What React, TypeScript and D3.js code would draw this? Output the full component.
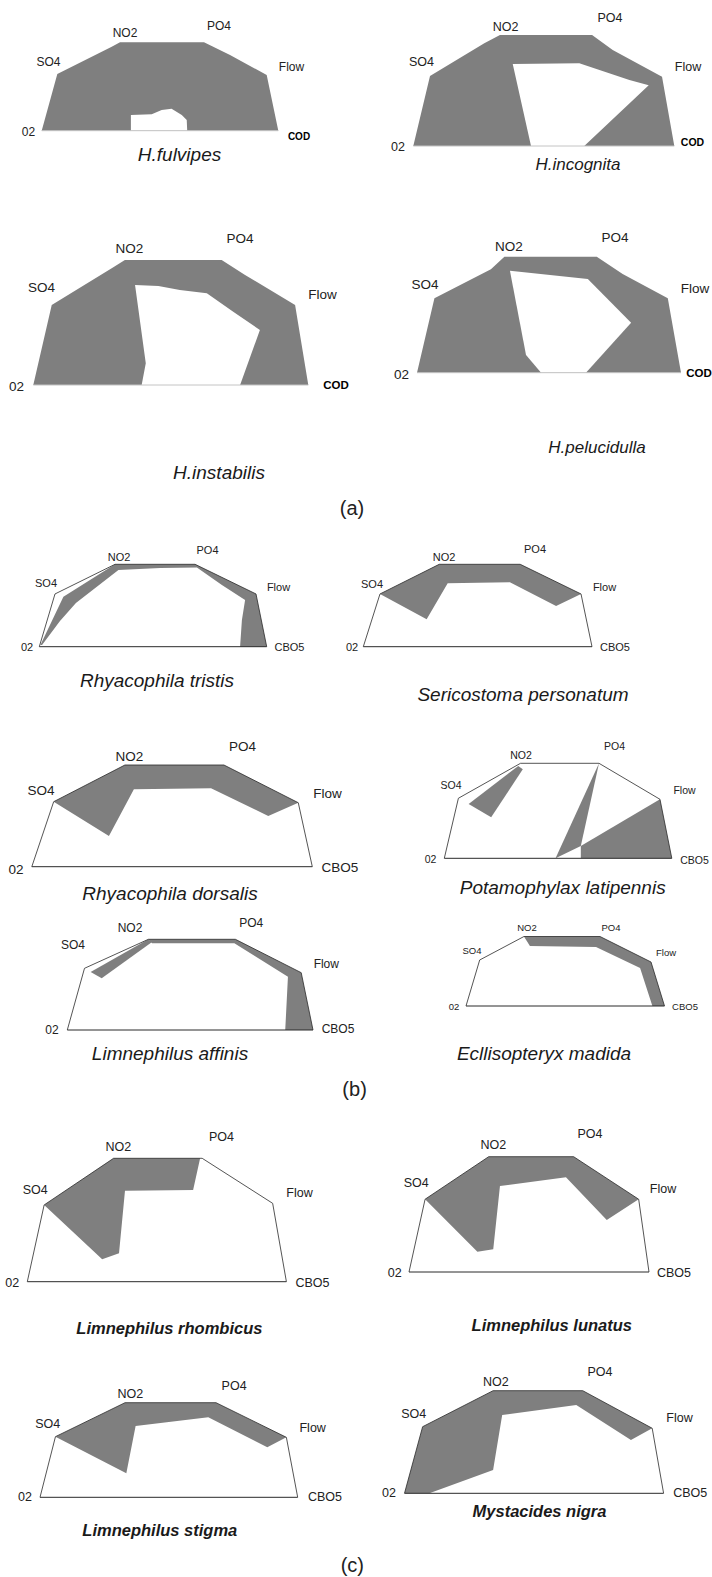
import React from "react";
import * as d3 from "d3";

type Pt = [number, number];

// axis names as printed (first one is written "02" in the figure)
const AXES_A = ["02", "SO4", "NO2", "PO4", "Flow", "COD"];
const AXES_BC = ["02", "SO4", "NO2", "PO4", "Flow", "CBO5"];

const SPECIES = [
  "H.fulvipes", "H.incognita", "H.instabilis", "H.pelucidulla",
  "Rhyacophila tristis", "Sericostoma personatum",
  "Rhyacophila dorsalis", "Potamophylax latipennis",
  "Limnephilus affinis", "Ecllisopteryx madida",
  "Limnephilus rhombicus", "Limnephilus lunatus",
  "Limnephilus stigma", "Mystacides nigra",
];

// shapes, in % of each diagram box (u: O2 -> COD, v: base -> top)
// panel (a): outer envelope is filled, hole is the white inner polygon
const fulvipesFrame: Pt[] = [[0, 0], [6.6, 64.1], [29.6, 95], [33.1, 100], [68.6, 100], [79.6, 85.6], [95.1, 63], [100, 0]];
const fulvipesHole: Pt[] = [[37.7, 0], [37.7, 17.8], [46.5, 18.6], [50.7, 23.4], [54.9, 24.9], [59.2, 17.8], [61.3, 12.1], [61.5, 0]];
const incognitaFrame: Pt[] = [[0, 0], [6.4, 63.1], [27.2, 92.5], [33.2, 100], [68.5, 100], [76.4, 86.5], [95.3, 62.4], [100, 0]];
const incognitaHole: Pt[] = [[38.1, 73.9], [63.6, 74.5], [82.8, 59.5], [90.2, 54.7], [65.5, 0], [45.1, 0]];
const instabilisFrame: Pt[] = [[0, 0], [6.7, 64], [29.1, 94.2], [33.3, 100], [68.5, 100], [77, 88], [95.2, 64], [100, 0]];
const instabilisHole: Pt[] = [[37, 80], [45.5, 79.2], [53.3, 76], [63.1, 73.4], [72.7, 58.6], [82.4, 44], [75.2, 0], [39.4, 0], [40.9, 17.4]];
const pelucidullaFrame: Pt[] = [[0, 0], [6.6, 64.1], [28, 89.1], [33.1, 100], [68.1, 100], [77.9, 85.1], [95, 64.1], [100, 0]];
const pelucidullaHole: Pt[] = [[35.2, 87.9], [64.7, 80.8], [81.1, 43.1], [64, 0], [47, 0], [41.3, 15.3]];

// panels (b), (c): outline frame + grey bands
const tristisFrame: Pt[] = [[0, 0], [6.9, 64], [33.3, 100], [68.5, 100], [95.3, 64], [100, 0]];
const tristisBands: Pt[][] = [[[0.5, 2.1], [10.6, 60.7], [33.3, 100], [68.5, 100], [95.3, 64], [100, 0], [88.3, 0], [89.1, 32.4], [90.5, 56.7], [80.3, 74.9], [69.3, 96.1], [53.1, 95.5], [34.8, 93.1], [16.1, 53], [9.1, 31.2], [1.2, 2.1]]];
const sericostomaFrame: Pt[] = [[0, 0], [7.3, 64], [33.2, 100], [68.6, 100], [95.2, 64], [100, 0]];
const sericostomaBands: Pt[][] = [[[7.3, 64], [33.2, 100], [68.6, 100], [95.2, 64], [84.3, 49.4], [64.1, 78.2], [50, 77.7], [36.9, 76.9], [27.7, 33.3]]];
const dorsalisFrame: Pt[] = [[0, 0], [7.8, 63.9], [33.2, 100], [68.5, 100], [95, 62.9], [100, 0]];
const dorsalisBands: Pt[][] = [[[7.8, 63.9], [33.2, 100], [68.5, 100], [95, 62.9], [84.3, 49.9], [63.9, 77.1], [36.4, 76.1], [27.5, 30.2]]];
const potamophylaxFrame: Pt[] = [[0, 0], [6.2, 63.2], [33.5, 100], [68, 100], [94.8, 62.1], [100, 0]];
const potamophylaxBands: Pt[][] = [
  [[10.7, 57.2], [32.5, 97.2], [34.5, 93.7], [20.6, 43.2]],
  [[48.9, 0], [68, 100], [60, 13]],
  [[60, 13], [94.8, 62.1], [100, 0], [60, 0]],
];
const affinisFrame: Pt[] = [[0, 0], [7, 68], [33, 100], [68.4, 100], [95.2, 63.2], [100, 0]];
const affinisBands: Pt[][] = [
  [[9.5, 64], [33, 100], [34.5, 97], [14, 57]],
  [[33, 100], [68.4, 100], [95.2, 63.2], [100, 0], [88.7, 0], [89.8, 58.8], [68, 95.6], [34.5, 95.6]],
];
const ecllisopteryxFrame: Pt[] = [[0, 0], [6.9, 66.2], [29.2, 100], [67.5, 100], [93.2, 63.3], [100, 0]];
const ecllisopteryxBands: Pt[][] = [[[29.2, 100], [67.5, 100], [93.2, 63.3], [100, 0], [93.9, 0], [87.7, 54.7], [65.5, 84.9], [32.2, 86.3]]];
const rhombicusFrame: Pt[] = [[0, 0], [6.5, 62.2], [33.3, 100], [67.5, 100], [94.7, 63.5], [100, 0]];
const rhombicusBands: Pt[][] = [[[6.5, 62.2], [33.3, 100], [66.7, 100], [64, 74.3], [37.7, 73.7], [35.4, 23], [28.9, 18.2]]];
const lunatusFrame: Pt[] = [[0, 0], [6.7, 63.1], [33.2, 100], [68.6, 100], [95.7, 63.1], [100, 0]];
const lunatusBands: Pt[][] = [[[6.7, 63.1], [33.2, 100], [68.6, 100], [95.7, 63.1], [82.4, 45.1], [65.4, 82.1], [37.9, 74.6], [35.1, 19.7], [28.5, 17.6]]];
const stigmaFrame: Pt[] = [[0, 0], [6, 64.1], [33, 100], [68.3, 100], [95.6, 63.4], [100, 0]];
const stigmaBands: Pt[][] = [[[6, 64.1], [33, 100], [68.3, 100], [95.6, 63.4], [88.2, 52.9], [65.3, 84.6], [37.1, 75.4], [33.5, 25.4]]];
const mystacidesFrame: Pt[] = [[0, 0], [7, 64.9], [34.2, 100], [68.8, 100], [95.6, 63.4], [100, 0]];
const mystacidesBands: Pt[][] = [[[0, 0], [7, 64.9], [34.2, 100], [68.8, 100], [95.6, 63.4], [87.4, 52], [66.3, 86.1], [37.7, 76.3], [34.2, 22.7], [9.6, 0]]];

const FRAMES = [fulvipesFrame, incognitaFrame, instabilisFrame, pelucidullaFrame, tristisFrame, sericostomaFrame, dorsalisFrame, potamophylaxFrame, affinisFrame, ecllisopteryxFrame, rhombicusFrame, lunatusFrame, stigmaFrame, mystacidesFrame];
const HOLES = [fulvipesHole, incognitaHole, instabilisHole, pelucidullaHole];
const BANDS = [tristisBands, sericostomaBands, dorsalisBands, potamophylaxBands, affinisBands, ecllisopteryxBands, rhombicusBands, lunatusBands, stigmaBands, mystacidesBands];

const PANELS = ["(a)", "(b)", "(c)"];

// ---- layout (page px) ----
type Lay = { box: [number, number, number, number]; lab: Pt[]; fs: number; title: Pt; ts: number; bold?: boolean };
const LAYOUT: Lay[] = [
  { box: [41.7, 278.3, 42.3, 130.7], lab: [[28.5, 132], [48.5, 62], [125, 33], [219, 26], [291.5, 67], [299, 136]], fs: 12, title: [179.5, 154], ts: 19 },
  { box: [413.3, 674.3, 35, 146], lab: [[398, 146.7], [421.5, 61.7], [505.5, 26.7], [610, 18.3], [688, 66.7], [692.5, 141.7]], fs: 12.5, title: [578, 164], ts: 17 },
  { box: [33.3, 308.3, 260, 385], lab: [[16.5, 386.7], [41.5, 287.3], [129.5, 248.3], [240, 238.3], [322.5, 294], [336, 385]], fs: 13.5, title: [219, 472], ts: 19 },
  { box: [417, 681, 256.7, 372.7], lab: [[401.5, 374], [425, 284], [509, 246.7], [615, 237.3], [695, 288], [699, 373.3]], fs: 13.5, title: [597, 447], ts: 17 },
  { box: [39.3, 266.7, 564.3, 646.7], lab: [[27, 647.3], [46, 583.3], [119, 556.7], [207.5, 550], [278.5, 586.7], [289.5, 647.3]], fs: 11, title: [157, 680], ts: 19 },
  { box: [363.3, 592, 564.3, 646.7], lab: [[352, 647], [372, 584], [444, 557.3], [535, 549.3], [604.5, 586.7], [615, 646.7]], fs: 11, title: [523, 694], ts: 19 },
  { box: [31.8, 312.3, 765, 866.7], lab: [[16, 869], [41, 790], [129.5, 756], [242.5, 746], [327.5, 793.3], [340, 867]], fs: 13.5, title: [170, 893.3], ts: 19 },
  { box: [444.3, 671.8, 763.3, 858.3], lab: [[430.5, 859], [451, 785], [521, 755], [614.5, 746], [684.5, 790], [694.5, 860]], fs: 10.5, title: [562.7, 887.3], ts: 19 },
  { box: [67.3, 313, 939.3, 1030], lab: [[52, 1030], [73, 945], [130, 928], [251.3, 922.7], [326.3, 964], [338, 1029.3]], fs: 12, title: [170, 1053.3], ts: 19 },
  { box: [466, 664.5, 936.5, 1006], lab: [[454, 1006.7], [472, 950.7], [527, 927], [611, 927], [666, 952], [685, 1006.7]], fs: 9.5, title: [544, 1053.3], ts: 19 },
  { box: [27.3, 286.4, 1158.3, 1281.7], lab: [[12.3, 1282.7], [35.2, 1190], [118.3, 1147.3], [221.5, 1136.7], [299.5, 1192.7], [312.5, 1282.7]], fs: 12.5, title: [169.4, 1328.3], ts: 16.5, bold: true },
  { box: [409, 649, 1156.7, 1272], lab: [[394.8, 1272.7], [416.3, 1183.3], [493.3, 1145], [590, 1134], [663, 1189.3], [674, 1272.7]], fs: 12.5, title: [551.8, 1325], ts: 16.5, bold: true },
  { box: [40, 297.7, 1402.7, 1497.3], lab: [[25, 1497.3], [47.8, 1424], [130.3, 1394], [234.1, 1386], [312.7, 1428.3], [325, 1497.3]], fs: 12.5, title: [159.8, 1530], ts: 16.5, bold: true },
  { box: [404.5, 663.6, 1390.7, 1493.3], lab: [[389, 1493.3], [413.7, 1414], [495.9, 1381.7], [599.9, 1371.7], [679.5, 1418.3], [690.2, 1493.3]], fs: 12.5, title: [539.5, 1510.7], ts: 16.5, bold: true },
];
const PANEL_POS: Pt[] = [[352, 508], [354.6, 1089], [352.3, 1565]];

const W = 712;
const H = 1577;
const GREY = "#7f7f7f";
const FONT = "'Liberation Sans', Arial, sans-serif";

function Diagram({ i }: { i: number }) {
  const L = LAYOUT[i];
  const [x0, x1, yTop, yBot] = L.box;
  const x = d3.scaleLinear().domain([0, 100]).range([x0, x1]);
  const y = d3.scaleLinear().domain([0, 100]).range([yBot, yTop]);
  const line = d3.line<Pt>().x((d) => x(d[0])).y((d) => y(d[1])).curve(d3.curveLinearClosed);
  const open = d3.line<Pt>().x((d) => x(d[0])).y((d) => y(d[1]));
  const isA = i < 4;
  const axes = isA ? AXES_A : AXES_BC;

  return (
    <g>
      {isA ? (
        <>
          <path d={line(FRAMES[i]) ?? ""} fill={GREY} />
          <path d={line(HOLES[i]) ?? ""} fill="#fff" />
          <line x1={x(0)} x2={x(100)} y1={y(0)} y2={y(0)} stroke="#c4c4c4" strokeWidth={1} />
        </>
      ) : (
        <>
          {BANDS[i - 4].map((b, k) => (
            <path key={k} d={line(b) ?? ""} fill={GREY} />
          ))}
          <path d={open(FRAMES[i]) ?? ""} fill="none" stroke="#2a2a2a" strokeWidth={0.8} />
          <line x1={x(0)} x2={x(100)} y1={y(0)} y2={y(0)} stroke="#2a2a2a" strokeWidth={1} />
        </>
      )}
      {axes.map((t, k) => {
        const bold = isA && k === 5;
        return (
          <text
            key={t}
            x={L.lab[k][0]}
            y={L.lab[k][1]}
            textAnchor="middle"
            dominantBaseline="central"
            fontSize={bold ? L.fs - 2 : L.fs}
            fontWeight={bold ? "bold" : "normal"}
            fill={bold ? "#000" : "#222"}
          >
            {t}
          </text>
        );
      })}
      <text
        x={L.title[0]}
        y={L.title[1]}
        textAnchor="middle"
        dominantBaseline="central"
        fontSize={L.ts}
        fontStyle="italic"
        fontWeight={L.bold ? "bold" : "normal"}
        fill="#1a1a1a"
      >
        {SPECIES[i]}
      </text>
    </g>
  );
}

export default function App() {
  return (
    <div style={{ position: "absolute", left: 0, top: 0 }}>
      <svg width={W} height={H} style={{ display: "block", background: "#fff", fontFamily: FONT }}>
        {SPECIES.map((_, i) => (
          <Diagram key={i} i={i} />
        ))}
        {PANELS.map((p, k) => (
          <text key={p} x={PANEL_POS[k][0]} y={PANEL_POS[k][1]} textAnchor="middle" dominantBaseline="central" fontSize={20} fill="#222">
            {p}
          </text>
        ))}
      </svg>
    </div>
  );
}
